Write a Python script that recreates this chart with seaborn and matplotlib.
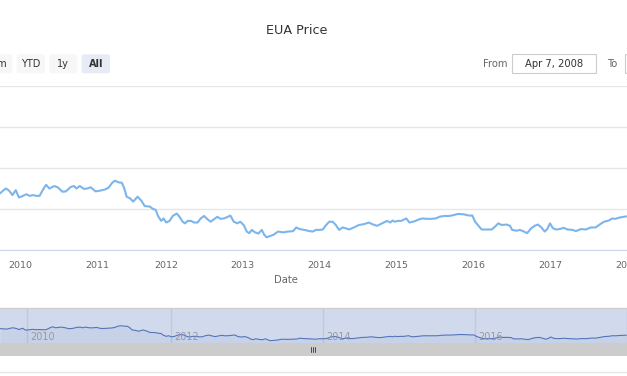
import matplotlib
matplotlib.use("Agg")
import matplotlib.pyplot as plt
import matplotlib.transforms as mtransforms
from matplotlib.patches import Rectangle, FancyBboxPatch
from matplotlib.lines import Line2D
import pandas as pd
import seaborn as sns

# EUA settlement price (EUR/t)
dates = [
    "2009-08-25", "2009-09-26", "2009-10-11", "2009-10-24", "2009-11-08", "2009-11-24",
    "2009-12-10", "2009-12-25", "2010-01-13", "2010-01-29", "2010-02-14", "2010-03-01",
    "2010-03-17", "2010-04-02", "2010-04-17", "2010-05-03", "2010-05-19", "2010-06-11",
    "2010-06-27", "2010-07-20", "2010-08-05", "2010-08-29", "2010-09-13", "2010-09-24",
    "2010-10-10", "2010-10-30", "2010-11-15", "2010-12-01", "2010-12-24", "2011-01-17",
    "2011-03-20", "2011-04-04", "2011-04-23", "2011-05-05", "2011-05-21", "2011-06-06",
    "2011-06-18", "2011-06-29", "2011-07-15", "2011-07-30", "2011-08-20", "2011-09-07",
    "2011-09-23", "2011-10-17", "2011-11-01", "2011-11-14", "2011-11-25", "2011-12-10",
    "2011-12-21", "2012-01-03", "2012-01-19", "2012-02-03", "2012-02-22", "2012-03-06",
    "2012-03-21", "2012-04-01", "2012-04-14", "2012-04-29", "2012-05-15", "2012-05-31",
    "2012-06-15", "2012-07-01", "2012-07-17", "2012-08-01", "2012-08-17", "2012-09-02",
    "2012-09-17", "2012-10-03", "2012-10-18", "2012-11-03", "2012-11-19", "2012-12-05",
    "2012-12-20", "2013-01-05", "2013-01-20", "2013-01-31", "2013-02-13", "2013-02-28",
    "2013-03-16", "2013-04-01", "2013-04-13", "2013-04-24", "2013-05-10", "2013-05-26",
    "2013-06-18", "2013-07-12", "2013-08-04", "2013-08-28", "2013-09-12", "2013-09-28",
    "2013-10-21", "2013-11-14", "2013-11-29", "2013-12-15", "2014-01-01", "2014-01-16",
    "2014-02-01", "2014-02-16", "2014-03-04", "2014-03-19", "2014-04-04", "2014-04-20",
    "2014-05-05", "2014-05-21", "2014-06-13", "2014-07-07", "2014-07-30", "2014-08-23",
    "2014-09-08", "2014-10-01", "2014-10-25", "2014-11-18", "2014-12-03", "2014-12-14",
    "2014-12-24", "2015-01-08", "2015-01-24", "2015-02-17", "2015-03-04", "2015-03-28",
    "2015-04-20", "2015-05-06", "2015-05-22", "2015-06-14", "2015-07-08", "2015-07-24",
    "2015-08-16", "2015-09-09", "2015-09-29", "2015-10-21", "2015-11-17", "2015-12-12",
    "2015-12-28", "2016-01-10", "2016-01-26", "2016-02-10", "2016-03-05", "2016-03-29",
    "2016-04-14", "2016-04-29", "2016-05-15", "2016-06-08", "2016-06-24", "2016-07-04",
    "2016-07-25", "2016-08-10", "2016-08-25", "2016-09-13", "2016-10-03", "2016-10-19",
    "2016-11-04", "2016-11-20", "2016-12-06", "2016-12-18", "2016-12-31", "2017-01-14",
    "2017-01-29", "2017-02-14", "2017-03-06", "2017-03-25", "2017-04-18", "2017-05-03",
    "2017-05-27", "2017-06-19", "2017-07-13", "2017-08-05", "2017-08-21", "2017-09-14",
    "2017-10-07", "2017-10-23", "2017-11-07", "2017-11-25", "2017-12-29",
]
prices = [
    14.2, 13.8, 14.5, 15.0, 14.5, 13.4,
    14.6, 12.8, 13.2, 13.6, 13.2, 13.4,
    13.2, 13.2, 14.6, 15.9, 15.0, 15.6,
    15.3, 14.2, 14.3, 15.4, 15.6, 15.0,
    15.6, 14.9, 15.0, 15.3, 14.3, 14.5,
    14.8, 15.2, 16.5, 16.9, 16.5, 16.4,
    15.0, 13.0, 12.6, 11.8, 13.0, 12.0,
    10.7, 10.6, 10.0, 9.8, 8.3, 7.1,
    7.7, 6.7, 7.1, 8.3, 8.9, 8.1,
    6.9, 6.5, 7.1, 7.1, 6.7, 6.7,
    7.7, 8.3, 7.5, 6.9, 7.5, 8.1,
    7.6, 7.7, 8.0, 8.4, 6.9, 6.5,
    6.9, 6.1, 4.5, 4.1, 4.9, 4.3,
    4.0, 4.9, 3.7, 3.1, 3.4, 3.7,
    4.5, 4.3, 4.5, 4.6, 5.5, 5.1,
    4.9, 4.6, 4.5, 4.9, 4.9, 5.0,
    6.1, 6.9, 6.9, 6.1, 4.9, 5.5,
    5.3, 5.0, 5.5, 6.1, 6.3, 6.7,
    6.3, 5.9, 6.5, 7.1, 6.7, 7.2,
    6.9, 7.1, 7.1, 7.7, 6.7, 7.0,
    7.5, 7.7, 7.6, 7.6, 7.7, 8.1,
    8.3, 8.3, 8.5, 8.8, 8.7, 8.4,
    8.4, 6.9, 5.9, 5.0, 5.0, 5.0,
    5.7, 6.5, 6.1, 6.2, 5.9, 4.9,
    4.7, 4.9, 4.6, 4.1, 5.3, 5.9,
    6.2, 5.5, 4.5, 5.1, 6.5, 5.3,
    5.0, 5.1, 5.4, 5.0, 4.9, 4.6,
    5.1, 5.0, 5.5, 5.5, 6.1, 6.9,
    7.2, 7.7, 7.6, 7.9, 8.2,
]

year_ticks = [2010, 2011, 2012, 2013, 2014, 2015, 2016, 2017, 2018]
nav_ticks = [2010, 2012, 2014, 2016, 2018]
nav_labels = ["2010", "2012", "2014", "2016", ""]
buttons = ["6m", "YTD", "1y", "All"]

# visible window of the (cropped) chart
VIEW_START, VIEW_END = "2009-09-26", "2017-11-30"
NAV_START, NAV_END = "2009-08-24", "2017-12-31"

# ordinal axis: registry closure in early 2011 has no data and takes no room
ORIGIN = pd.Timestamp("2010-01-01")
GAP_START, GAP_END = pd.Timestamp("2011-01-19"), pd.Timestamp("2011-02-27")


def trading_pos(d):
    d = pd.Timestamp(d)
    days = (d - ORIGIN).days
    if d > GAP_START:
        days -= (min(d, GAP_END) - GAP_START).days
    return days


df = pd.DataFrame({"date": pd.to_datetime(dates), "price": prices})
df["pos"] = df["date"].apply(trading_pos)

sns.set_style("white")
plt.rcParams["font.family"] = ["DejaVu Sans"]

W, H = 627, 376
fig = plt.figure(figsize=(W / 100, H / 100), dpi=100)


def fx(px):
    return px / W


def fy(py):
    return 1 - py / H


# ---- main chart
ax = fig.add_axes([0, fy(250), 1, (250 - 86) / H])
sns.lineplot(data=df, x="pos", y="price", ax=ax, color="#7cb5ec", linewidth=1.5, legend=False)
ax.set_xlim(trading_pos(VIEW_START), trading_pos(VIEW_END))
ax.set_ylim(0, 40)
ax.set_yticks([0, 10, 20, 30, 40])
ax.set_yticklabels([])
ax.tick_params(axis="y", length=0)
ax.grid(axis="y", color="#e6e6e6", linewidth=1)
ax.set_xticks([trading_pos(f"{y}-01-01") for y in year_ticks])
ax.set_xticklabels([str(y) for y in year_ticks])
ax.tick_params(axis="x", color="#ccd6eb", length=6, width=1, labelcolor="#666666",
               labelsize=6.8, pad=2)
for s in ["top", "left", "right"]:
    ax.spines[s].set_visible(False)
ax.spines["bottom"].set_color("#ccd6eb")
ax.set_xlabel("")
ax.set_ylabel("")
ax.set_axisbelow(True)

fig.text(fx(286), fy(280), "Date", ha="center", va="center", fontsize=7.2, color="#666666")
fig.text(fx(297), fy(31), "EUA Price", ha="center", va="center", fontsize=9.2, color="#333333")

# ---- range selector buttons
btn_x = [(-14, 12.3), (16.7, 45), (49.3, 77.3), (81.7, 110)]
for label, (x0, x1) in zip(buttons, btn_x):
    sel = label == "All"
    fig.add_artist(FancyBboxPatch((fx(x0), fy(73.3)), fx(x1 - x0), 19 / H,
                                  boxstyle="round,pad=0,rounding_size=0.004",
                                  transform=fig.transFigure,
                                  facecolor="#e6ebf5" if sel else "#f7f7f7",
                                  edgecolor="none"))
    fig.text(fx((x0 + x1) / 2), fy(63.8), label, ha="center", va="center",
             fontsize=7, color="#333333", fontweight="bold" if sel else "normal")

fig.text(fx(507), fy(63.8), "From", ha="right", va="center", fontsize=7.2, color="#666666")
fig.add_artist(Rectangle((fx(512.3), fy(73.3)), fx(596 - 512.3), 19 / H,
                         transform=fig.transFigure, facecolor="white",
                         edgecolor="#cccccc", linewidth=0.8))
fig.text(fx(554), fy(63.8), "Apr 7, 2008", ha="center", va="center", fontsize=7.2, color="#333333")
fig.text(fx(612), fy(63.8), "To", ha="center", va="center", fontsize=7.2, color="#666666")
fig.add_artist(Rectangle((fx(624.5), fy(73.3)), fx(80), 19 / H,
                         transform=fig.transFigure, facecolor="white",
                         edgecolor="#cccccc", linewidth=0.8))

# ---- navigator
nav = fig.add_axes([0, fy(343), 1, 35 / H])
nav.set_facecolor("#d1daed")
nav.fill_between(df["pos"], 0, df["price"], color="#335cad", alpha=0.06, linewidth=0)
sns.lineplot(data=df, x="pos", y="price", ax=nav, color="#5374b8", linewidth=0.8, legend=False)
nav.set_xlim(trading_pos(NAV_START), trading_pos(NAV_END))
nav.set_ylim(1.0, 33.2)
nav.set_yticks([])
nav_pos = [trading_pos(f"{y}-01-01") for y in nav_ticks]
nav.set_xticks(nav_pos)
nav.set_xticklabels([])
nav.tick_params(axis="x", length=0)
nav.grid(axis="x", color="#bfc8dc", linewidth=1)
nav.set_axisbelow(True)
nav.set_xlabel("")
nav.set_ylabel("")
for s in ["bottom", "left", "right"]:
    nav.spines[s].set_visible(False)
nav.spines["top"].set_color("#cccccc")
nav.spines["top"].set_linewidth(1)
lab_tr = mtransforms.offset_copy(nav.get_xaxis_transform(), fig=fig, x=3, y=0, units="dots")
for lab, p in zip(nav_labels, nav_pos):
    nav.text(p, 0.18, lab, transform=lab_tr, ha="left", va="center",
             fontsize=7, color="#999999", clip_on=True)

# ---- scrollbar
fig.add_artist(Rectangle((0, fy(356)), 1, 13 / H, transform=fig.transFigure,
                         facecolor="#cccccc", edgecolor="none"))
for gx in (311, 313, 315):
    fig.add_artist(Line2D([fx(gx), fx(gx)], [fy(352), fy(346.5)], transform=fig.transFigure,
                          color="#333333", linewidth=0.6))
fig.add_artist(Line2D([0, 1], [fy(372), fy(372)], transform=fig.transFigure,
                      color="#e6e6e6", linewidth=1))

fig.savefig("out.png", dpi=100, facecolor="white")
